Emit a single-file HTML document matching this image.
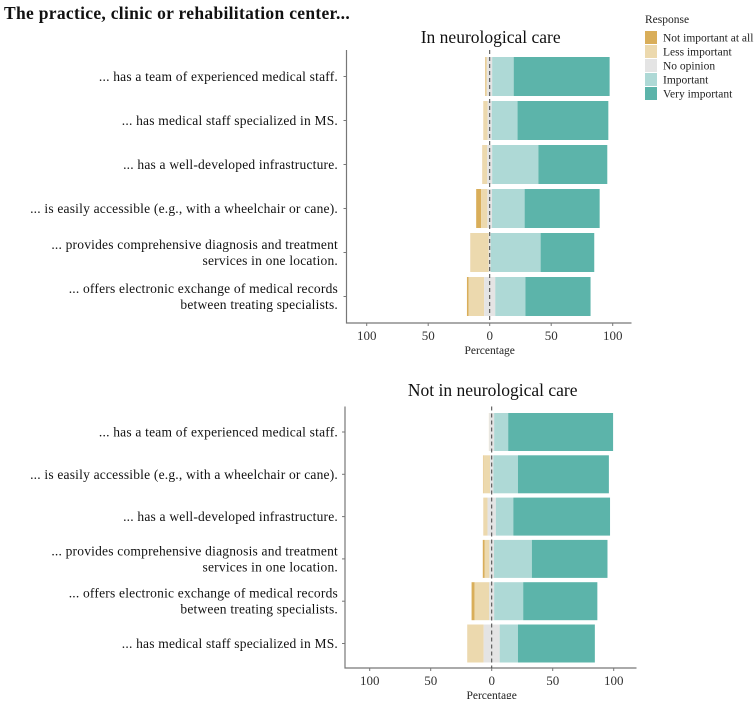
<!DOCTYPE html>
<html><head><meta charset="utf-8"><style>
body{margin:0;background:#fff;width:755px;height:699px;overflow:hidden}
svg{font-family:"Liberation Serif",serif}
</style></head><body>
<svg id="c" width="755" height="699">
<text x="4" y="19" font-size="17.5" font-weight="bold" letter-spacing="0.3" fill="#111">The practice, clinic or rehabilitation center...</text>
<g id="legend"></g>
</svg>
<script>
const responses = ["Not important at all","Less important","No opinion","Important","Very important"];
const colors = ["#d9ae5a","#ecd9ae","#e4e4e4","#aed9d6","#5cb4aa"];
const ticks = [100,50,0,50,100];
const tickVals = [-100,-50,0,50,100];
const cats1 = ["... has a team of experienced medical staff.","... has medical staff specialized in MS.","... has a well-developed infrastructure.","... is easily accessible (e.g., with a wheelchair or cane).","... provides comprehensive diagnosis and treatment|services in one location.","... offers electronic exchange of medical records|between treating specialists."];
const notImp1 = [0.5,0.3,0.3,4,0.3,1.3];
const lessImp1 = [1,3,3.7,5.1,14.4,12.7];
const noOp1 = [4,3.3,4,3.8,1.6,9];
const imp1 = [17.5,21,37.6,26.5,40.6,24.6];
const veryImp1 = [78,73.8,56,61,43.6,52.9];
const cats2 = ["... has a team of experienced medical staff.","... is easily accessible (e.g., with a wheelchair or cane).","... has a well-developed infrastructure.","... provides comprehensive diagnosis and treatment|services in one location.","... offers electronic exchange of medical records|between treating specialists.","... has medical staff specialized in MS."];
const notImp2 = [0,0.3,0.3,1.6,2.5,0.3];
const lessImp2 = [0.3,5.5,2.9,3.8,12,13.1];
const noOp2 = [4,2.7,6.8,3.8,4,13.1];
const imp2 = [11.5,20.2,14.3,31,23.8,15];
const veryImp2 = [86,74.5,79.3,62,60.8,63];

const NS="http://www.w3.org/2000/svg";
const svg=document.getElementById('c');
function mk(tag,attrs,parent){const e=document.createElementNS(NS,tag);for(const k in attrs)e.setAttribute(k,attrs[k]);(parent||svg).appendChild(e);return e;}

function panel(p){
  const g=mk('g',{});
  
  
  const x=v=>p.zero+v*p.scale;
  const t=mk('text',{x:x(0)+1,y:p.titleY,'font-size':17.5,'text-anchor':'middle',fill:'#111'},g);
  t.textContent=p.title;
  
  
  const ax=mk('path',{d:`M${p.axL} ${p.axT}V${p.axB}H${p.axR}`,stroke:'#777',fill:'none','stroke-width':1.2},g);
  
  
  tickVals.forEach((v,i)=>{
    mk('line',{x1:x(v),x2:x(v),y1:p.axB,y2:p.axB+3,stroke:'#777'},g);
    const tl=mk('text',{x:x(v),y:p.axB+17,'font-size':13,'text-anchor':'middle',fill:'#333'},g);
    tl.textContent=ticks[i];
    
    
  });
  const xt=mk('text',{x:x(0),y:p.axB+31,'font-size':11.5,'text-anchor':'middle',fill:'#222'},g);
  xt.textContent='Percentage';
  
  
  p.cats.forEach((c,i)=>{
    const cy=p.row0+i*p.step;
    mk('line',{x1:p.axL-3,x2:p.axL,y1:cy,y2:cy,stroke:'#777'},g);
    const lines=c.split('|');
    lines.forEach((ln,j)=>{
      const tx=mk('text',{x:338,y:cy+4.5+(j-(lines.length-1)/2)*16,'font-size':13.5,'letter-spacing':0.2,'text-anchor':'end',fill:'#111'},g);
      tx.textContent=ln;
      
      
    });
    const vals=[p.s[0][i],p.s[1][i],p.s[2][i],p.s[3][i],p.s[4][i]];
    let left=-(vals[2]/2+vals[1]+vals[0]);
    vals.forEach((v,k)=>{
      const r=mk('rect',{x:x(left),y:cy-p.bh/2,width:Math.max(0,v*p.scale),height:p.bh,fill:colors[k]},g);
      
      
      left+=v;
    });
  });
  const zl=mk('line',{x1:x(0),x2:x(0),y1:p.axT,y2:p.axB,stroke:'#444','stroke-dasharray':'4,3','stroke-width':1},g);
  
  
}
panel({name:'panel-in-neurological-care',title:'In neurological care',titleY:43,zero:489.7,scale:1.23,axL:346.5,axR:631.5,axT:50,axB:323,row0:76.5,step:44,bh:39,cats:cats1,s:[notImp1,lessImp1,noOp1,imp1,veryImp1]});
panel({name:'panel-not-in-neurological-care',title:'Not in neurological care',titleY:396,zero:491.7,scale:1.22,axL:345,axR:636.5,axT:406.5,axB:668,row0:432,step:42.3,bh:38,cats:cats2,s:[notImp2,lessImp2,noOp2,imp2,veryImp2]});

const lg=document.getElementById('legend');
const lt=mk('text',{x:645,y:23,'font-size':11.5,fill:'#222'},lg);
lt.textContent='Response';
responses.forEach((r,i)=>{
  const y=31+i*14;
  const sw=mk('rect',{x:645,y:y,width:12,height:13,fill:colors[i]},lg);
  
  
  const t=mk('text',{x:663,y:y+10.5,'font-size':11.5,fill:'#222'},lg);
  t.textContent=r;
  
  
});
</script>
</body></html>
